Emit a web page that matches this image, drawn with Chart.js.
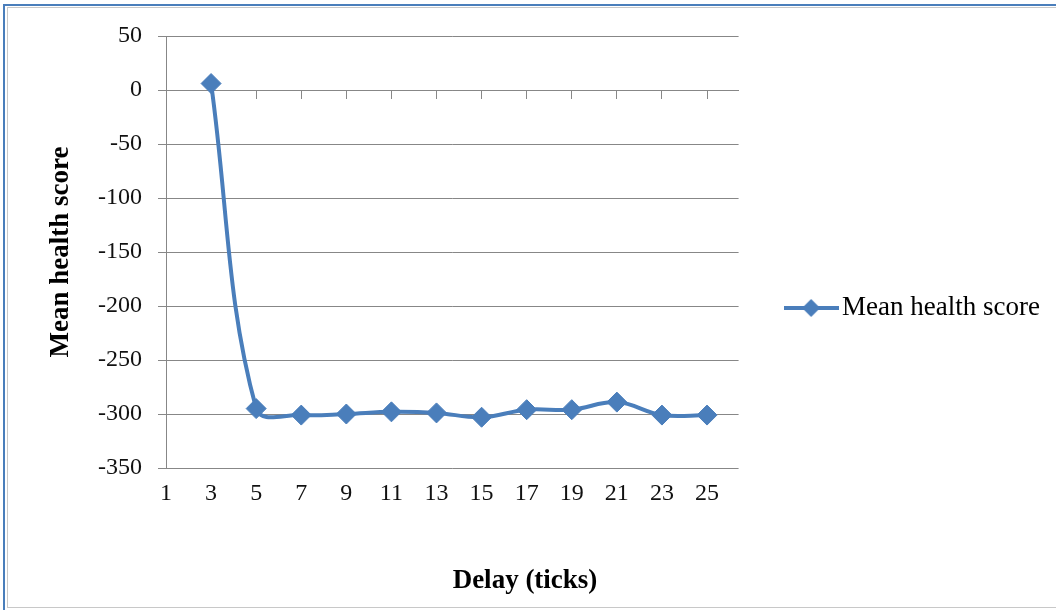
<!DOCTYPE html>
<html>
<head>
<meta charset="utf-8">
<title>Mean health score by delay</title>
<script src="https://cdn.jsdelivr.net/npm/chart.js@4.4.1/dist/chart.umd.min.js"></script>
<style>
  html, body { margin: 0; padding: 0; background: #ffffff; }
  #wrap { position: relative; width: 1056px; height: 610px; overflow: hidden; }
  .frame-outer { position: absolute; left: 3px; top: 4px; width: 1100px; height: 700px;
                 border-left: 2px solid #4a7ebb; border-top: 2px solid #4a7ebb; }
  .frame-inner { position: absolute; left: 7px; top: 7px; width: 1100px; height: 599px;
                 border: 1px solid #c8c8c8; border-right: none; }
  #chart { position: absolute; left: 0; top: 0; }
</style>
</head>
<body>
<div id="wrap">
  <div class="frame-outer"></div>
  <div class="frame-inner"></div>
  <canvas id="chart" width="1056" height="610"></canvas>
</div>
<script>
// Delay (ticks) and the mean health score measured at each delay
const delays = [3, 5, 7, 9, 11, 13, 15, 17, 19, 21, 23, 25];
const meanHealth = [6, -295, -301, -300, -298, -299, -303, -296, -296, -289, -301, -301];
const xTickLabels = [1, 3, 5, 7, 9, 11, 13, 15, 17, 19, 21, 23, 25];
const seriesName = 'Mean health score';
const yTitle = 'Mean health score';
const xTitle = 'Delay (ticks)';

const blue = '#4a7ebb';
const gridGray = '#878787';
const serif = "'Liberation Serif', 'Times New Roman', serif";

// legend symbol: a short line with a diamond on it
const legendSymbol = document.createElement('canvas');
legendSymbol.width = 55;
legendSymbol.height = 22;
(function () {
  const g = legendSymbol.getContext('2d');
  g.strokeStyle = blue;
  g.lineWidth = 4;
  g.beginPath();
  g.moveTo(0, 11);
  g.lineTo(55, 11);
  g.stroke();
  g.fillStyle = blue;
  g.beginPath();
  g.moveTo(27.5 - 9, 11);
  g.lineTo(27.5, 2);
  g.lineTo(27.5 + 9, 11);
  g.lineTo(27.5, 20);
  g.closePath();
  g.fill();
})();

const oddTicks = scale => { scale.ticks = xTickLabels.map(v => ({ value: v })); };

new Chart(document.getElementById('chart'), {
  type: 'line',
  data: {
    datasets: [{
      label: seriesName,
      data: delays.map((d, i) => ({ x: d, y: meanHealth[i] })),
      borderColor: blue,
      backgroundColor: blue,
      borderWidth: 4,
      pointStyle: 'rectRot',
      pointRadius: 10,
      pointBorderWidth: 1,
      pointBackgroundColor: blue,
      pointBorderColor: blue,
      tension: 0.38,
      fill: false
    }]
  },
  options: {
    responsive: false,
    animation: false,
    devicePixelRatio: 1,
    layout: { padding: { left: 0, right: 6, top: 36, bottom: 30 } },
    scales: {
      x: {
        type: 'linear',
        position: 'bottom',
        min: 1,
        max: 26.4,
        afterBuildTicks: oddTicks,
        grid: { display: false, drawTicks: false, tickLength: 0 },
        border: { display: false },
        ticks: {
          font: { family: serif, size: 24 },
          color: '#111111',
          padding: 11,
          maxRotation: 0,
          autoSkip: false
        },
        afterFit: s => { s.height = 96.6; }
      },
      xZero: {
        type: 'linear',
        axis: 'x',
        position: { y: 0 },
        min: 1,
        max: 26.4,
        afterBuildTicks: oddTicks,
        grid: { drawOnChartArea: false, drawTicks: true, tickLength: 8, color: gridGray },
        border: { color: gridGray, width: 1 },
        ticks: { display: false }
      },
      y: {
        min: -350,
        max: 50,
        ticks: {
          stepSize: 50,
          padding: 16,
          font: { family: serif, size: 24 },
          color: '#111111'
        },
        grid: { color: gridGray, tickLength: 8 },
        border: { color: gridGray, width: 1 },
        title: {
          display: true,
          text: yTitle,
          font: { family: serif, size: 27, weight: 'bold' },
          color: '#000000',
          padding: { top: 45, bottom: 0 }
        },
        afterFit: s => { s.width = 166; }
      }
    },
    plugins: {
      legend: {
        position: 'right',
        maxWidth: 316,
        labels: {
          usePointStyle: true,
          pointStyleWidth: 35,
          padding: 55,
          color: '#000000',
          font: { family: serif, size: 27 },
          generateLabels: chart => {
            const items = Chart.defaults.plugins.legend.labels.generateLabels(chart);
            items.forEach(it => { it.pointStyle = legendSymbol; });
            return items;
          }
        }
      },
      title: {
        display: true,
        position: 'bottom',
        text: xTitle,
        color: '#000000',
        font: { family: serif, size: 27, weight: 'bold' },
        padding: { top: 0, bottom: -17 }
      },
      tooltip: { enabled: false }
    }
  }
});
</script>
</body>
</html>
